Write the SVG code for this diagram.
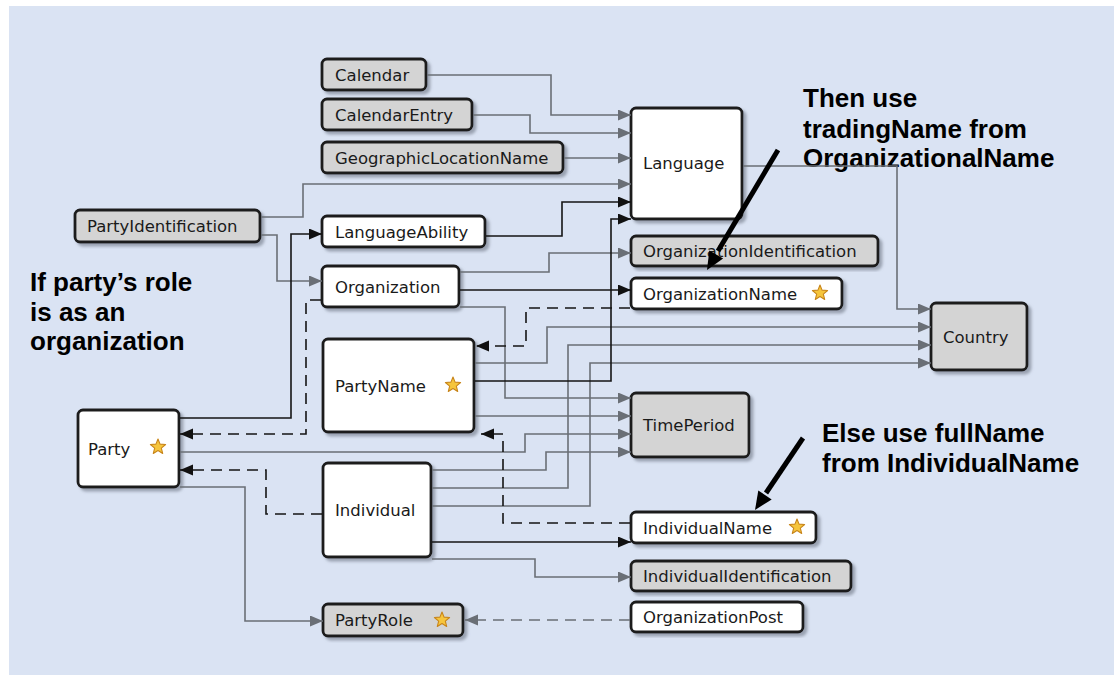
<svg xmlns="http://www.w3.org/2000/svg" width="1119" height="675" viewBox="0 0 1119 675">
  <defs>
    <style>
      .box { stroke: #1e1e1e; stroke-width: 2.8; filter: url(#shadow); }
      .gray { fill: #d4d4d4; }
      .white { fill: #ffffff; }
      .lbl { font-family: "DejaVu Sans", Verdana, sans-serif; font-size: 16.5px; fill: #1a1a1a; }
      .note { font-family: "Liberation Sans", Arial, sans-serif; font-size: 26px; font-weight: bold; fill: #000; }
      .cg { fill: none; stroke: #6a6f76; stroke-width: 1.6; marker-end: url(#ag); }
      .ck { fill: none; stroke: #151515; stroke-width: 1.6; marker-end: url(#ak); }
      .dk { fill: none; stroke: #151515; stroke-width: 1.6; stroke-dasharray: 11 7; marker-end: url(#ak); }
      .dg { fill: none; stroke: #6a6f76; stroke-width: 1.6; stroke-dasharray: 11 7; marker-end: url(#ag); }
    </style>
    <filter id="shadow" x="-10%" y="-10%" width="130%" height="130%">
      <feDropShadow dx="3" dy="3" stdDeviation="1.5" flood-color="#7d8594" flood-opacity="0.7"/>
    </filter>
    <marker id="ag" markerUnits="userSpaceOnUse" markerWidth="14" markerHeight="12" refX="13" refY="5.5" orient="auto">
      <path d="M0,0 L13,5.5 L0,11 Z" fill="#6a6f76"/>
    </marker>
    <marker id="ak" markerUnits="userSpaceOnUse" markerWidth="14" markerHeight="12" refX="13" refY="5.5" orient="auto">
      <path d="M0,0 L13,5.5 L0,11 Z" fill="#111"/>
    </marker>
    <symbol id="star" viewBox="-9 -9 18 18" width="18" height="18" overflow="visible">
      <polygon points="0,-8 2.06,-2.83 7.61,-2.47 3.33,1.08 4.7,6.47 0,3.5 -4.7,6.47 -3.33,1.08 -7.61,-2.47 -2.06,-2.83" fill="#f6c53c" stroke="#c8851a" stroke-width="1.1" stroke-linejoin="round"/>
    </symbol>
  </defs>

  <!-- page background -->
  <rect x="0" y="0" width="1119" height="675" fill="#ffffff"/>
  <rect x="9" y="6" width="1105" height="669" fill="#dae3f3"/>

  <!-- annotations -->
  <text class="note" x="803" y="107">Then use</text>
  <text class="note" x="803" y="138">tradingName from</text>
  <text class="note" x="803" y="167">OrganizationalName</text>
  <text class="note" x="30" y="291">If party’s role</text>
  <text class="note" x="30" y="321">is as an</text>
  <text class="note" x="30" y="350">organization</text>
  <text class="note" x="822" y="442">Else use fullName</text>
  <text class="note" x="822" y="472">from IndividualName</text>

  <!-- entities -->
  <g id="calendar"><rect class="box gray" x="322" y="59" width="104" height="31" rx="5"/><text class="lbl" x="335" y="80.5">Calendar</text></g>
  <g id="calendar-entry"><rect class="box gray" x="322" y="99" width="150" height="31" rx="5"/><text class="lbl" x="335" y="120.5">CalendarEntry</text></g>
  <g id="geographic-location-name"><rect class="box gray" x="322" y="142" width="241" height="31" rx="5"/><text class="lbl" x="335" y="163.5">GeographicLocationName</text></g>
  <g id="party-identification"><rect class="box gray" x="75" y="210" width="185" height="32" rx="5"/><text class="lbl" x="87" y="232">PartyIdentification</text></g>
  <g id="language"><rect class="box white" x="631" y="108" width="111" height="111" rx="5"/><text class="lbl" x="643" y="169">Language</text></g>
  <g id="language-ability"><rect class="box white" x="322" y="216" width="163" height="31" rx="5"/><text class="lbl" x="335" y="237.5">LanguageAbility</text></g>
  <g id="organization"><rect class="box white" x="322" y="266" width="137" height="41" rx="5"/><text class="lbl" x="335" y="292.5">Organization</text></g>
  <g id="organization-identification"><rect class="box gray" x="631" y="236" width="247" height="30" rx="5"/><text class="lbl" x="643" y="257">OrganizationIdentification</text></g>
  <g id="organization-name"><rect class="box white" x="631" y="278" width="211" height="31" rx="5"/><text class="lbl" x="643" y="299.5">OrganizationName</text><use href="#star" x="811" y="284"/></g>
  <g id="country"><rect class="box gray" x="931" y="303" width="96" height="67" rx="5"/><text class="lbl" x="943" y="342.5">Country</text></g>
  <g id="party-name"><rect class="box white" x="323" y="339" width="151" height="93" rx="5"/><text class="lbl" x="335" y="391.5">PartyName</text><use href="#star" x="444" y="376"/></g>
  <g id="time-period"><rect class="box gray" x="631" y="393" width="118" height="64" rx="5"/><text class="lbl" x="643" y="431">TimePeriod</text></g>
  <g id="party"><rect class="box white" x="78" y="410" width="101" height="77" rx="5"/><text class="lbl" x="88" y="454.5">Party</text><use href="#star" x="149" y="438"/></g>
  <g id="individual"><rect class="box white" x="323" y="463" width="108" height="94" rx="5"/><text class="lbl" x="335" y="516">Individual</text></g>
  <g id="individual-name"><rect class="box white" x="631" y="512" width="185" height="31" rx="5"/><text class="lbl" x="643" y="533.5">IndividualName</text><use href="#star" x="788" y="518"/></g>
  <g id="individual-identification"><rect class="box gray" x="631" y="561" width="220" height="30" rx="5"/><text class="lbl" x="643" y="582">IndividualIdentification</text></g>
  <g id="party-role"><rect class="box gray" x="323" y="604" width="140" height="32" rx="5"/><text class="lbl" x="335" y="626">PartyRole</text><use href="#star" x="433" y="611"/></g>
  <g id="organization-post"><rect class="box white" x="631" y="602" width="172" height="30" rx="5"/><text class="lbl" x="643" y="623">OrganizationPost</text></g>

  <!-- relationships -->
  <g id="connectors">
    <path class="cg" d="M427,75 H551 V115 H631"/>
    <path class="cg" d="M473,115 H530 V133 H631"/>
    <path class="cg" d="M564,158 H631"/>
    <path class="cg" d="M261,217 H303 V184 H631"/>
    <path class="cg" d="M261,235 H277 V281 H322"/>
    <path class="cg" d="M743,166 H897 V309 H931"/>
    <path class="cg" d="M460,272 H549 V253 H631"/>
    <path class="cg" d="M460,307 H505 V398 H631"/>
    <path class="cg" d="M475,363 H547 V327 H931"/>
    <path class="cg" d="M475,416 H631"/>
    <path class="cg" d="M180,452 H525 V434 H631"/>
    <path class="cg" d="M432,470 H546 V452 H631"/>
    <path class="cg" d="M432,488 H568 V345 H931"/>
    <path class="cg" d="M432,506 H590 V363 H931"/>
    <path class="cg" d="M432,559 H535 V577 H631"/>
    <path class="cg" d="M180,487 H245 V621 H323"/>
    <path class="dg" d="M630,620 H465"/>
    <path class="ck" d="M486,236 H562 V202 H631"/>
    <path class="ck" d="M475,381 H611 V219 H631"/>
    <path class="ck" d="M180,418 H291 V234 H322"/>
    <path class="ck" d="M460,290 H631"/>
    <path class="ck" d="M432,542 H631"/>
    <path class="dk" d="M321,300 H306 V434 H180"/>
    <path class="dk" d="M322,514 H266 V470 H180"/>
    <path class="dk" d="M630,308 H526 V346 H476"/>
    <path class="dk" d="M630,523 H503 V434 H481"/>
  </g>

  <!-- pointer arrows for the notes -->
  <g id="note-arrows">
    <line x1="778" y1="150" x2="718" y2="251" stroke="#000" stroke-width="5"/>
    <polygon points="707,270 723.1,258.6 709.3,250.4" fill="#000"/>
    <line x1="803" y1="438" x2="766" y2="493" stroke="#000" stroke-width="5"/>
    <polygon points="755,510 771.7,499.4 758.3,490.6" fill="#000"/>
  </g>
</svg>
